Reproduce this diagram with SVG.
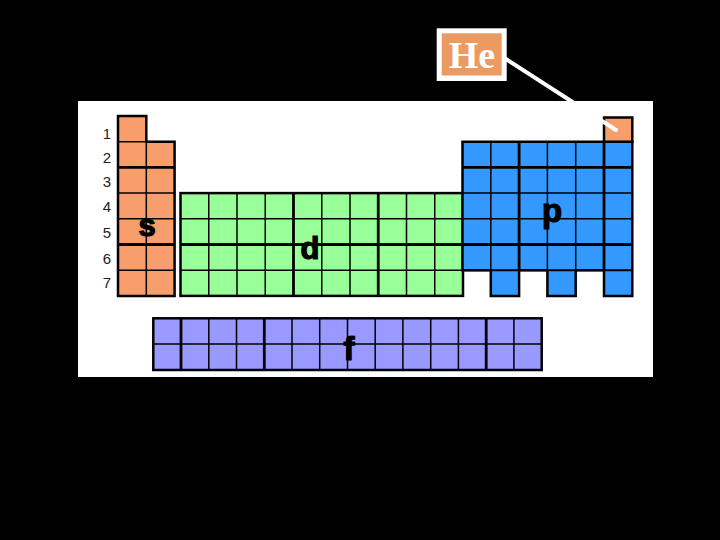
<svg xmlns="http://www.w3.org/2000/svg" width="720" height="540" viewBox="0 0 720 540">
<style>
.s{fill:#F89E6C}
.d{fill:#99FF99}
.p{fill:#3399FF}
.f{fill:#9999FF}
.out{stroke:#000;stroke-width:2.5;stroke-linejoin:miter}
.thin{stroke:#000;stroke-width:1.5;fill:none}
.thick{stroke:#000;stroke-width:2.8;fill:none}
.lbl{font-family:"Liberation Sans",Arial,sans-serif;font-weight:bold;fill:#000;stroke:#000;stroke-width:1.2;text-anchor:middle}
.num{font-family:"Liberation Sans",Arial,sans-serif;font-size:15px;fill:#222;text-anchor:middle}
</style>
<rect width="720" height="540" fill="#000"/>
<rect id="panel" x="78" y="101" width="575" height="276" fill="#fff"/>

<g id="row-numbers">
<text class="num" x="107" y="139">1</text>
<text class="num" x="107" y="163">2</text>
<text class="num" x="107" y="187">3</text>
<text class="num" x="107" y="212">4</text>
<text class="num" x="107" y="238">5</text>
<text class="num" x="107" y="264">6</text>
<text class="num" x="107" y="288">7</text>
</g>

<g id="s-block">
<path class="s out" d="M118,116 H146.3 V141.7 H174.6 V295.9 H118 Z"/>
<path class="thin" d="M146.3,141.7 V295.9 M118,141.7 H146.3 M118,193.1 H174.6 M118,218.8 H174.6 M118,270.2 H174.6"/>
<path class="thick" d="M118,167.4 H174.6 M118,244.5 H174.6"/>
<text class="lbl" x="147" y="236" font-size="31">s</text>
</g>

<g id="d-block">
<rect class="d out" x="180.5" y="193.1" width="282.5" height="102.8"/>
<path class="thin" d="M208.75,193.1 V295.9 M237,193.1 V295.9 M265.25,193.1 V295.9 M321.75,193.1 V295.9 M350,193.1 V295.9 M406.5,193.1 V295.9 M434.75,193.1 V295.9 M180.5,218.8 H463 M180.5,270.2 H463"/>
<path class="thick" d="M293.5,193.1 V295.9 M378.25,193.1 V295.9 M180.5,244.5 H463"/>
<text class="lbl" x="310" y="259" font-size="31">d</text>
</g>

<g id="p-block">
<path class="p out" d="M462.5,141.7 H632.3 V295.9 H604 V270.2 H575.7 V295.9 H547.4 V270.2 H519.1 V295.9 H490.8 V270.2 H462.5 Z"/>
<path class="thin" d="M490.8,141.7 V270.2 M547.4,141.7 V270.2 M575.7,141.7 V270.2 M462.5,193.1 H632.3 M462.5,218.8 H632.3"/>
<path class="thick" d="M519.1,141.7 V270.2 M604,141.7 V270.2 M462.5,167.4 H632.3 M462.5,244.5 H632.3"/>
<path d="M462.5,270.2 H632.3" stroke="#000" stroke-width="2" fill="none"/>
<text class="lbl" x="552" y="222" font-size="33">p</text>
</g>

<g id="he-cell">
<rect class="s out" x="604" y="117.5" width="28.3" height="24.2"/>
</g>

<g id="f-block">
<rect class="f out" x="153.3" y="318.3" width="388.4" height="51.7"/>
<path class="thin" d="M208.8,318.3 V370 M236.5,318.3 V370 M292,318.3 V370 M319.7,318.3 V370 M347.5,318.3 V370 M375.2,318.3 V370 M402.9,318.3 V370 M430.7,318.3 V370 M458.4,318.3 V370 M513.9,318.3 V370 M153.3,344 H541.7"/>
<path class="thick" d="M181,318.3 V370 M264.3,318.3 V370 M486.2,318.3 V370"/>
<text class="lbl" x="349" y="360" font-size="33">f</text>
</g>

<g id="connectors">
<line x1="506" y1="59" x2="616" y2="130" stroke="#fff" stroke-width="4" stroke-linecap="round"/>
</g>

<g id="he-label">
<rect x="436.7" y="28.3" width="70" height="52.7" fill="#fff"/>
<rect x="441.7" y="33.3" width="60" height="42.2" fill="#EB9A62"/>
<text x="472" y="68" font-family="'Liberation Serif','Times New Roman',serif" font-weight="bold" font-size="38" fill="#fff" text-anchor="middle">He</text>
</g>
</svg>
